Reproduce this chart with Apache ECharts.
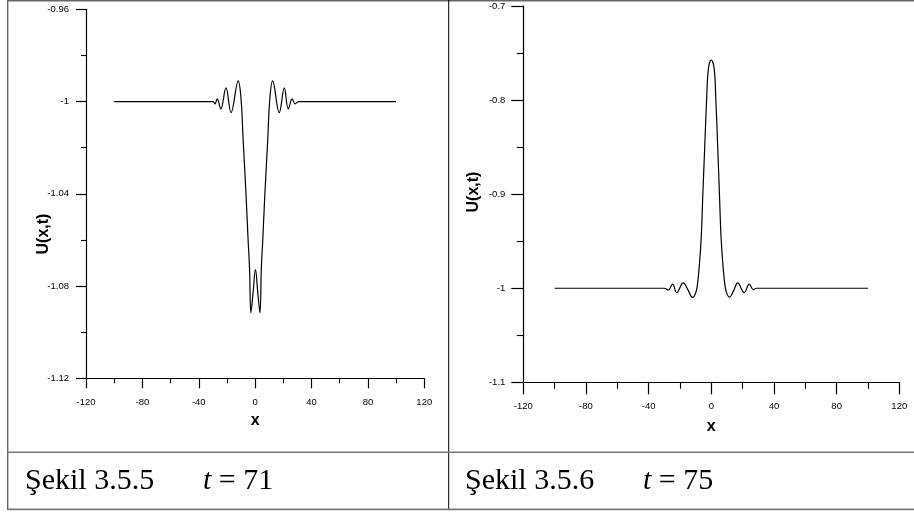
<!DOCTYPE html>
<html lang="tr">
<head>
<meta charset="UTF-8">
<title>Şekil 3.5.5 / 3.5.6</title>
<script src="https://cdn.jsdelivr.net/npm/echarts@6/dist/echarts.min.js"></script>
<style>
  html, body { margin: 0; padding: 0; background: #fff; }
  #chart { width: 914px; height: 514px; }
</style>
</head>
<body>
<div id="chart"></div>
<script>
// tick labels
var xTicks = [-120, -80, -40, 0, 40, 80, 120];
var yTicks71 = [-1.12, -1.08, -1.04, -1, -0.96];
var yTicks75 = [-1.1, -1, -0.9, -0.8, -0.7];

// t = 71
var xs71 = [-100, -30, -28.5, -26.9, -24.4, -20.7, -17.1, -12.0, -10.0, -8.5,
            -6.5, -5.0, -4.0, -3.0, -1.5, 0.2, 1.9, 3.4, 4.4, 5.4,
            6.9, 8.9, 10.4, 12.4, 17.1, 20.7, 23.5, 26.3, 28.3, 31, 100];
var u71 = [-1, -1, -1.001, -0.9988, -1.0032, -0.9941, -1.0048, -0.991, -0.999, -1.017,
           -1.04, -1.06, -1.072, -1.0916, -1.083, -1.0729, -1.083, -1.0916, -1.072, -1.06,
           -1.04, -1.017, -0.999, -0.991, -1.0048, -0.9941, -1.0032, -0.9988, -1.001, -1, -1];

// t = 75 (right panel)
var xs75 = [-100, -30, -27.5, -24.7, -22.1, -17.9, -14.8, -12.0, -10.2, -9.0,
            -7.6, -6.4, -5.4, -4.2, -3.0, -1.8, 0, 1.8, 2.9, 4.1,
            5.2, 6.2, 7.4, 8.8, 10.0, 11.6, 14.4, 16.8, 21.0, 24.2,
            26.8, 29, 100];
var u75 = [-1, -1, -1.002, -0.9957, -1.0046, -0.9944, -1.002, -1.0098, -1.006, -0.998,
           -0.975, -0.945, -0.9, -0.85, -0.8, -0.766, -0.7574, -0.766, -0.8, -0.85,
           -0.9, -0.945, -0.975, -0.998, -1.006, -1.0095, -1.002, -0.9944, -1.0046, -0.9957,
           -1.0014, -1, -1];

var sansFont = 'Liberation Sans';
var serifFont = 'Liberation Serif';

function pairs(xs, ys) {
  return xs.map(function (x, i) { return [x, ys[i]]; });
}
function step(t) {
  return +(t[1] - t[0]).toFixed(6);
}

function xAxisOf(gi, tickLen, minorLen, margin, gap) {
  return {
    type: 'value', gridIndex: gi,
    min: xTicks[0], max: xTicks[xTicks.length - 1], interval: step(xTicks),
    axisLine: { onZero: false, lineStyle: { color: '#000', width: 1.2 } },
    axisTick: { length: tickLen, lineStyle: { color: '#000', width: 1.2 } },
    minorTick: { show: true, splitNumber: 2, length: minorLen, lineStyle: { color: '#000', width: 1.1 } },
    splitLine: { show: false },
    axisLabel: { margin: margin, color: '#000', fontSize: 9.5, fontFamily: sansFont },
    name: 'x', nameLocation: 'middle', nameGap: gap,
    nameTextStyle: { fontWeight: 'bold', fontSize: 16, color: '#000', fontFamily: sansFont }
  };
}

function yAxisOf(gi, ticks, tickLen, minorLen, margin) {
  return {
    type: 'value', gridIndex: gi,
    min: ticks[0], max: ticks[ticks.length - 1], interval: step(ticks),
    axisLine: { show: true, onZero: false, lineStyle: { color: '#000', width: 1.2 } },
    axisTick: { show: true, length: tickLen, lineStyle: { color: '#000', width: 1.2 } },
    minorTick: { show: true, splitNumber: 2, length: minorLen, lineStyle: { color: '#000', width: 1.1 } },
    splitLine: { show: false },
    axisLabel: { margin: margin, color: '#000', fontSize: 9.5, fontFamily: sansFont }
  };
}

function hline(x1, x2, y, color, w) {
  return { type: 'line', silent: true, shape: { x1: x1, y1: y, x2: x2, y2: y }, style: { stroke: color, lineWidth: w } };
}
function vline(x, y1, y2, color, w) {
  return { type: 'line', silent: true, shape: { x1: x, y1: y1, x2: x, y2: y2 }, style: { stroke: color, lineWidth: w } };
}
function yName(x, y) {
  return {
    type: 'text', x: x, y: y, rotation: Math.PI / 2, silent: true,
    style: { text: 'U(x,t)', fontSize: 16, fontWeight: 'bold', fontFamily: sansFont, fill: '#000', align: 'center', verticalAlign: 'middle' }
  };
}
function caption(x, tx, y, fig, tval) {
  return [
    { type: 'text', x: x, y: y, silent: true,
      style: { text: 'Şekil ' + fig, fontSize: 30, fontFamily: serifFont, fill: '#000', verticalAlign: 'middle' } },
    { type: 'text', x: tx, y: y, silent: true,
      style: { text: '{i|t} = ' + tval, fontSize: 30, fontFamily: serifFont, fill: '#000', verticalAlign: 'middle',
               rich: { i: { fontStyle: 'italic', fontSize: 30, fontFamily: serifFont } } } }
  ];
}

var myChart = echarts.init(document.getElementById('chart'));
myChart.setOption({
  animation: false,
  grid: [
    { left: 86, right: 489.7, top: 9.3, bottom: 135.7 },
    { left: 523.3, right: 14.7, top: 6, bottom: 131.7 }
  ],
  xAxis: [
    xAxisOf(0, 10, 5, 19, 33),
    xAxisOf(1, 12, 6.5, 19, 36)
  ],
  yAxis: [
    yAxisOf(0, yTicks71, 10, 5, 17),
    yAxisOf(1, yTicks75, 12, 6.5, 18)
  ],
  series: [
    {
      name: 't=71', type: 'line', xAxisIndex: 0, yAxisIndex: 0,
      data: pairs(xs71, u71), showSymbol: false, smooth: 0.4,
      lineStyle: { color: '#000', width: 1.2 }
    },
    {
      name: 't=75', type: 'line', xAxisIndex: 1, yAxisIndex: 1,
      data: pairs(xs75, u75), showSymbol: false, smooth: 0.4,
      lineStyle: { color: '#000', width: 1.2 }
    }
  ],
  graphic: [
    hline(7.7, 914, 0.8, '#666', 1.6),
    vline(7.7, 0, 510, '#666', 1.4),
    vline(448.7, 0, 510, '#000', 1),
    hline(7.7, 914, 452.3, '#777', 1.6),
    hline(7.7, 914, 509.4, '#777', 1.6),
    yName(44, 234),
    yName(474, 192)
  ].concat(caption(25, 203, 481, '3.5.5', '71'))
   .concat(caption(465, 643, 481, '3.5.6', '75'))
});
</script>
</body>
</html>
